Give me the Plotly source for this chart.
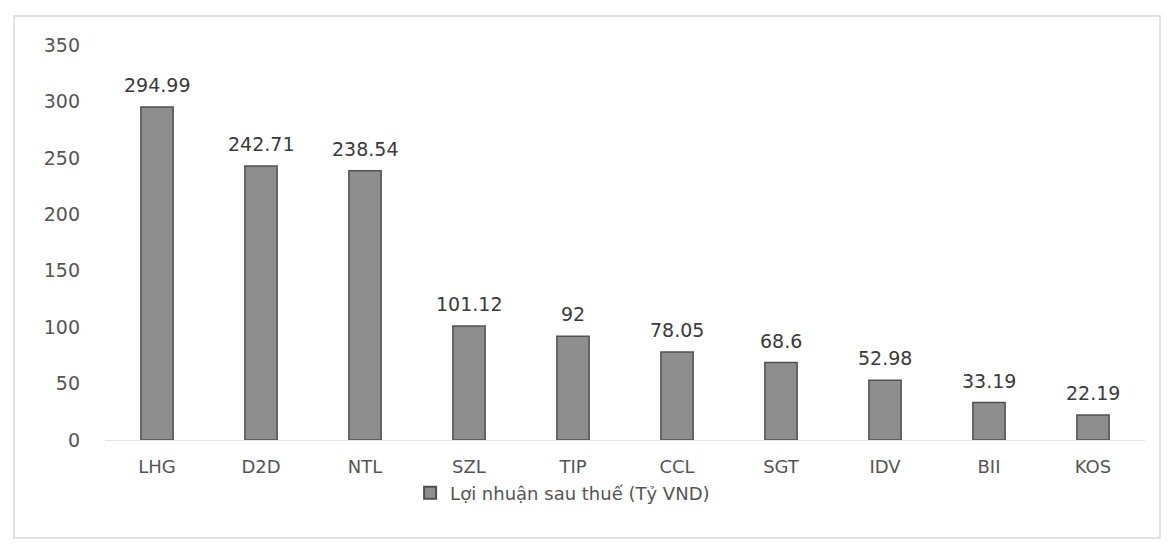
import plotly.graph_objects as go

categories = ["LHG", "D2D", "NTL", "SZL", "TIP", "CCL", "SGT", "IDV", "BII", "KOS"]
values = [294.99, 242.71, 238.54, 101.12, 92, 78.05, 68.6, 52.98, 33.19, 22.19]
labels = ["294.99", "242.71", "238.54", "101.12", "92", "78.05", "68.6", "52.98", "33.19", "22.19"]
series_name = "Lợi nhuận sau thuế (Tỷ VND)"
y_ticks = [0, 50, 100, 150, 200, 250, 300, 350]

fig = go.Figure()
fig.add_trace(go.Bar(
    x=categories, y=values, name=series_name,
    marker=dict(color="#8e8e8e", line=dict(color="#505050", width=1.5)),
    showlegend=True,
))

for c, v, t in zip(categories, values, labels):
    fig.add_annotation(x=c, y=v, text=t, showarrow=False, yanchor="middle",
                       yshift=22,
                       font=dict(family="DejaVu Sans", size=19, color="#3a3a3a"))

L, R, T, B = 105, 1168 - 1145, 45, 547 - 440
fig.update_layout(
    width=1168, height=547,
    margin=dict(l=L, r=R, t=T, b=B, pad=0),
    paper_bgcolor="white", plot_bgcolor="white",
    bargap=0.69,
    font=dict(family="DejaVu Sans", color="#555555"),
    xaxis=dict(showgrid=False, showline=True, linecolor="#e4e4e4", linewidth=1,
               tickfont=dict(family="DejaVu Sans", size=18, color="#555555"),
               ticks="", ticklabelstandoff=10),
    yaxis=dict(range=[0, 350], tickvals=y_ticks, showgrid=False, zeroline=False,
               showline=False, ticks="",
               tickfont=dict(family="DejaVu Sans", size=19, color="#555555"),
               ticklabelstandoff=24),
    legend=dict(orientation="h", x=0.44, xanchor="center", y=-0.134, yanchor="middle",
                font=dict(family="DejaVu Sans", size=18, color="#555555"),
                itemwidth=30, itemsizing="constant"),
    shapes=[dict(type="rect", xref="paper", yref="paper",
                 x0=(14 - L) / 1040, x1=(1160 - L) / 1040,
                 y0=(440 - 538) / 395, y1=(440 - 16) / 395,
                 line=dict(color="#d9d9d9", width=1.5), layer="below")],
)

fig.write_html("out.html")
